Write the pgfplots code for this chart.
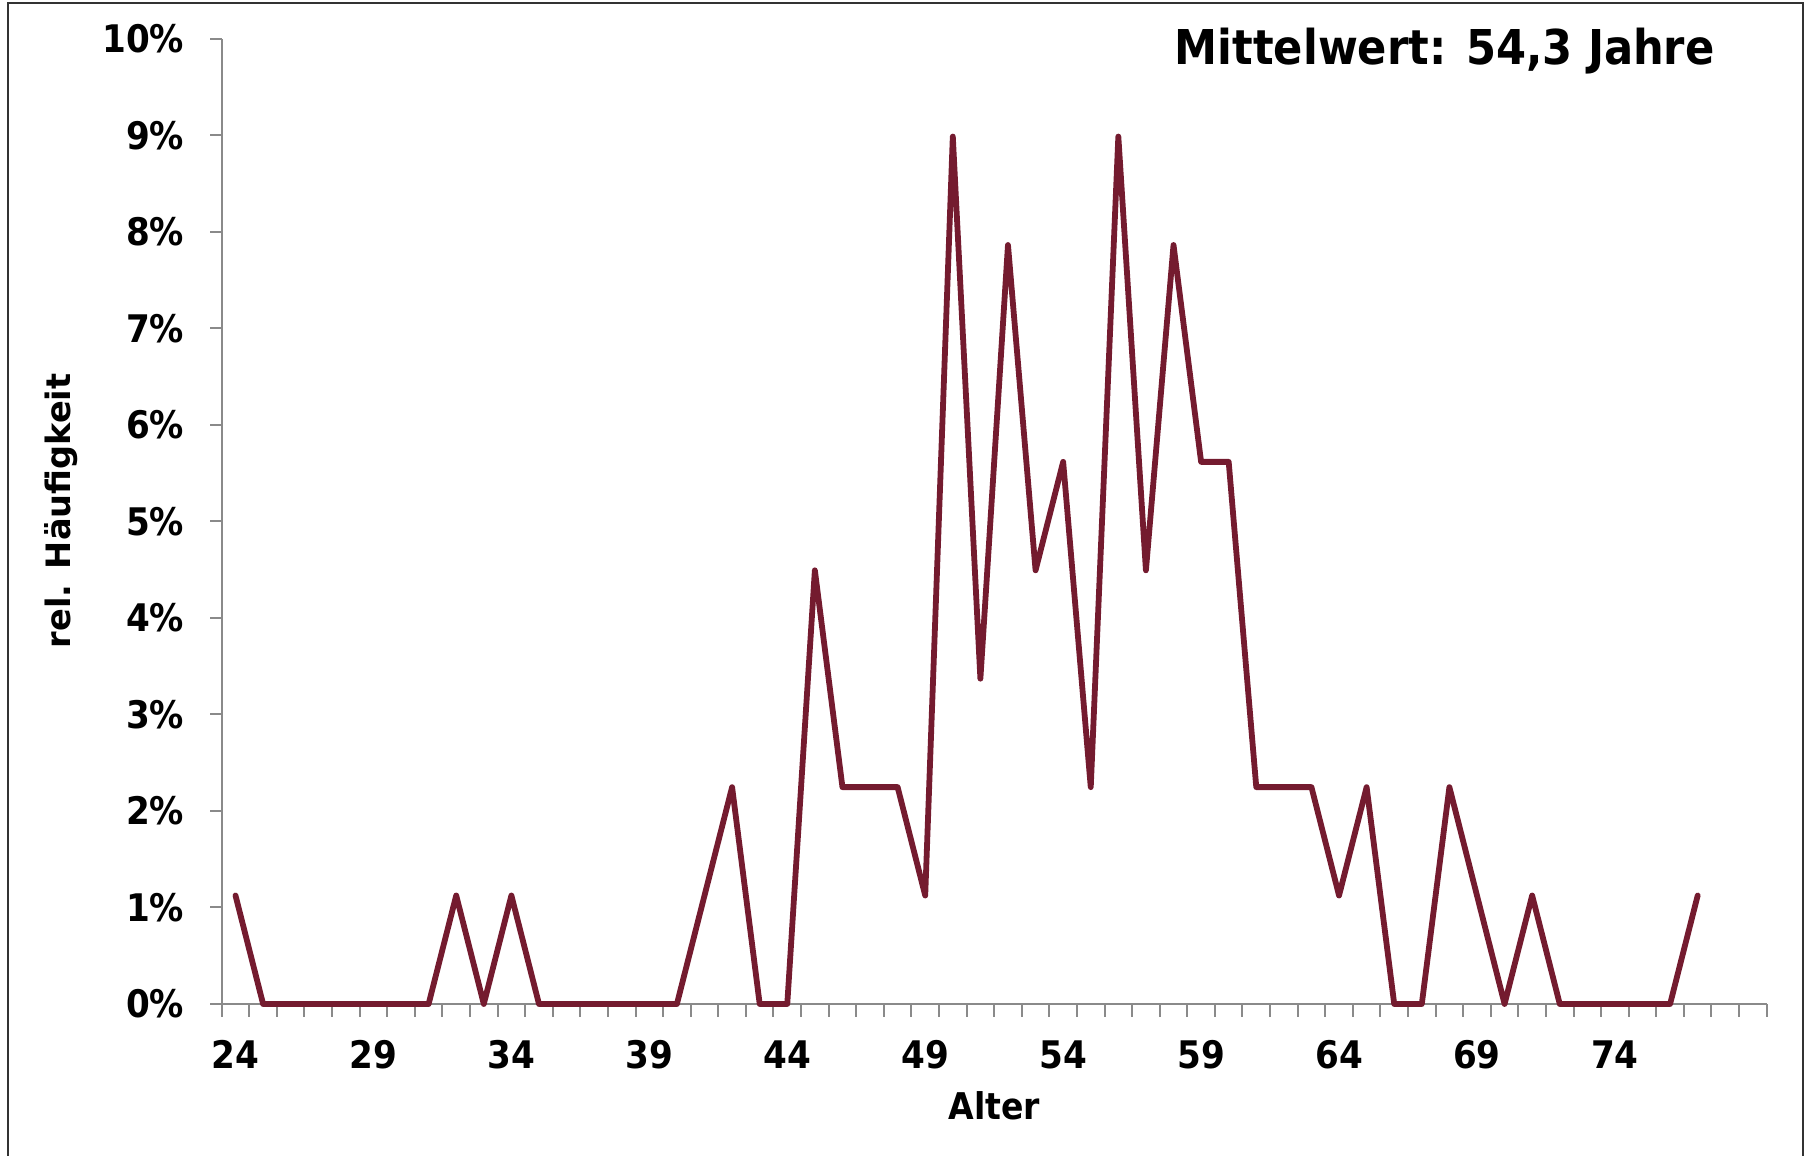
\documentclass[border=0pt]{standalone}
\usepackage{fontspec}
\setmainfont{DejaVu Sans}
\newfontfamily\cond{DejaVu Sans Condensed}
\usepackage{pgfplots}
\pgfplotsset{compat=1.18}
\definecolor{linered}{RGB}{116,27,47}
\definecolor{axgray}{RGB}{138,138,138}
\begin{document}
\begin{tikzpicture}
\useasboundingbox (-55.43bp,-38bp) rectangle (395.83bp,251bp);
\begin{axis}[
  scale only axis,
  width=386.25bp, height=241.25bp,
  xmin=23.5, xmax=79.5, ymin=0, ymax=10,
  clip=false,
  axis lines*=left,
  axis line style={axgray, line width=0.5bp},
  every tick/.style={axgray, line width=0.5bp},
  tick align=outside,
  major tick length=2.9bp,
  minor tick length=3.25bp,
  xtick={24,29,...,74},
  minor xtick={23.5,24.5,...,79.5},
  every major x tick/.append style={draw=none},
  ytick={0,1,...,10},
  yticklabel={\pgfmathprintnumber{\tick}\%},
  /pgf/number format/assume math mode=true,
  ticklabel style={font=\cond\bfseries\fontsize{9.5bp}{11bp}\selectfont},
  yticklabel style={anchor=east, inner sep=0pt, xshift=-6.3bp},
  xticklabel style={anchor=north, inner sep=0pt, yshift=-6bp},
  xlabel={Alter},
  ylabel={rel. Häufigkeit},
  xlabel style={font=\cond\bfseries\fontsize{9.2bp}{11bp}\selectfont, at={(axis description cs:0.5,-0.1202)}, anchor=base},
  ylabel style={font=\bfseries\fontsize{8.4bp}{10bp}\selectfont, at={(axis description cs:-0.104,0.511)}, anchor=center},
]
\addplot[linered, line width=1.45bp, line join=round, line cap=round] coordinates {
(24,1.124)(25,0)(26,0)(27,0)(28,0)(29,0)(30,0)(31,0)(32,1.124)(33,0)
(34,1.124)(35,0)(36,0)(37,0)(38,0)(39,0)(40,0)(41,1.124)(42,2.247)(43,0)
(44,0)(45,4.494)(46,2.247)(47,2.247)(48,2.247)(49,1.124)(50,8.989)(51,3.371)(52,7.865)(53,4.494)
(54,5.618)(55,2.247)(56,8.989)(57,4.494)(58,7.865)(59,5.618)(60,5.618)(61,2.247)(62,2.247)(63,2.247)
(64,1.124)(65,2.247)(66,0)(67,0)(68,2.247)(69,1.124)(70,0)(71,1.124)(72,0)(73,0)
(74,0)(75,0)(76,0)(77,1.124)
};
\end{axis}
\draw[black!80, line width=0.5bp] (-53.4bp,-40bp) -- (-53.4bp,250.25bp) -- (395.3bp,250.25bp) -- (395.3bp,-40bp);
\node[anchor=base west, inner sep=0pt, font=\cond\bfseries\fontsize{12bp}{14bp}\selectfont] at (238.1bp,234.75bp) {Mittelwert: 54,3 Jahre};
\end{tikzpicture}
\end{document}
